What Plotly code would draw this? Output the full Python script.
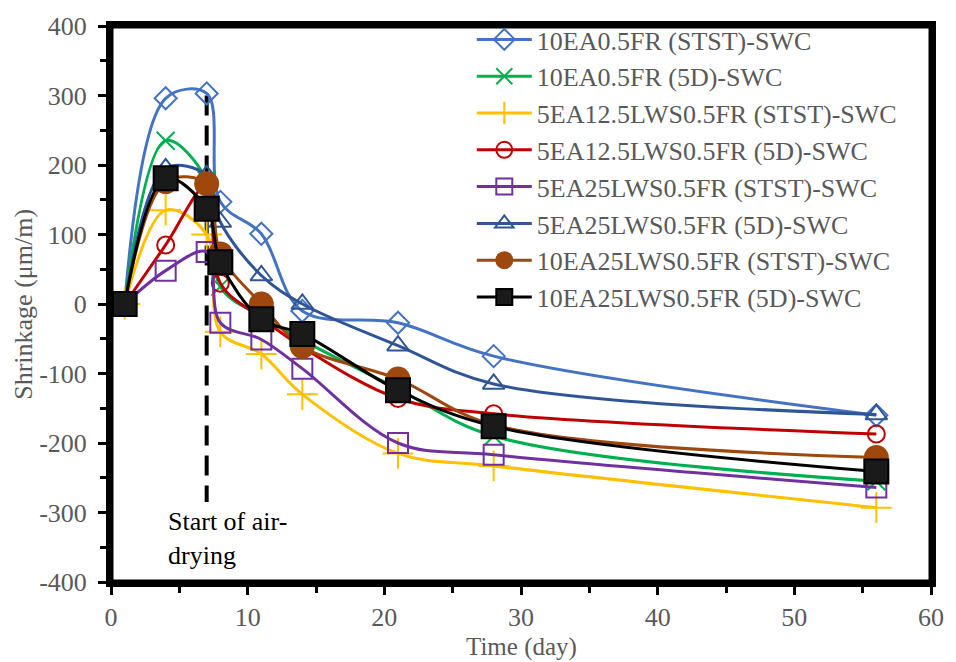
import plotly.graph_objects as go

days = [1, 4, 7, 8, 11, 14, 21, 28, 56]

names = [
    "10EA0.5FR (STST)-SWC",
    "10EA0.5FR (5D)-SWC",
    "5EA12.5LWS0.5FR (STST)-SWC",
    "5EA12.5LWS0.5FR (5D)-SWC",
    "5EA25LWS0.5FR (STST)-SWC",
    "5EA25LWS0.5FR (5D)-SWC",
    "10EA25LWS0.5FR (STST)-SWC",
    "10EA25LWS0.5FR (5D)-SWC",
]

s1 = [0, 296, 303, 147, 101, -10, -27, -75, -160]
s2 = [0, 235, 178, 25, -18, -52, -122, -190, -255]
s3 = [0, 135, 100, -40, -72, -130, -215, -233, -293]
s4 = [0, 85, 170, 30, -20, -62, -136, -158, -187]
s5 = [0, 48, 75, -27, -51, -93, -200, -217, -264]
s6 = [0, 195, 185, 118, 41, 0, -60, -115, -159]
s7 = [0, 176, 173, 72, 0, -61, -108, -174, -221]
s8 = [0, 181, 137, 60, -22, -43, -124, -176, -241]

series = [s1, s2, s3, s4, s5, s6, s7, s8]

y_ticks = [-400, -300, -200, -100, 0, 100, 200, 300, 400]
y_tick_text = ["-400", "-300", "-200", "-100", "0", "100", "200", "300", "400"]

colors = ["#4472C4", "#00B050", "#FFC000", "#C00000", "#7030A0", "#2F5597", "#9E480E", "#000000"]
symbols = ["diamond-open", "x-thin", "cross-thin", "circle-open", "square-open",
           "triangle-up-open", "circle", "square"]
sizes = [17, 18, 22, 17, 20, 19, 23, 24]
fills = [None, None, None, None, None, None, "#9E480E", "#1A1A1A"]

dash_x = [7, 7]
dash_y = [300, -285]

SERIF = "Liberation Serif"
GREY = "#595959"

fig = go.Figure()

fig.add_trace(go.Scatter(x=dash_x, y=dash_y, mode="lines",
                         line=dict(color="black", width=4, dash="20px,10px"),
                         showlegend=False, hoverinfo="skip"))

for i, (nm, ys) in enumerate(zip(names, series)):
    mk = dict(symbol=symbols[i], size=sizes[i], color=fills[i] or colors[i],
              line=dict(color=colors[i], width=2))
    fig.add_trace(go.Scatter(
        x=days, y=ys, name=nm, mode="lines+markers",
        line=dict(color=colors[i], width=3, shape="spline", smoothing=1),
        marker=mk, legendgroup=f"g{i}"))

tick_font = dict(family=SERIF, size=26, color=GREY)

fig.update_layout(
    width=956, height=662,
    margin=dict(l=111, r=18, t=17, b=80),
    paper_bgcolor="white", plot_bgcolor="white",
    font=dict(family=SERIF, color=GREY),
    xaxis=dict(range=[0, 60], dtick=10, tick0=0, showgrid=False, zeroline=False,
               showline=True, linecolor="black", linewidth=5, mirror=True,
               ticks="outside", ticklen=8, tickwidth=3, tickcolor="black",
               minor=dict(dtick=5, ticks="outside", ticklen=6, tickwidth=3, tickcolor="black"),
               tickfont=tick_font),
    yaxis=dict(range=[-400, 400], tickvals=y_ticks, ticktext=y_tick_text,
               showgrid=False, zeroline=False,
               showline=True, linecolor="black", linewidth=5, mirror=True,
               ticks="outside", ticklen=8, tickwidth=3, tickcolor="black",
               minor=dict(dtick=50, ticks="outside", ticklen=6, tickwidth=3, tickcolor="black"),
               tickfont=tick_font, ticklabelstandoff=6),
    legend=dict(x=0.44, y=1.018, xanchor="left", yanchor="top",
                font=dict(family=SERIF, size=26, color=GREY),
                bgcolor="rgba(0,0,0,0)", traceorder="grouped", tracegroupgap=0,
                itemwidth=55),
    showlegend=True,
)

fig.add_shape(type="rect", xref="paper", yref="paper", x0=0, x1=1, y0=0, y1=1,
              line=dict(color="black", width=5), layer="above")

fig.add_annotation(x=0.5, y=-0.117, xref="paper", yref="paper", xanchor="center", yanchor="middle",
                   text="Time (day)", showarrow=False,
                   font=dict(family=SERIF, size=25, color=GREY))
fig.add_annotation(x=-0.1076, y=0.5, xref="paper", yref="paper", xanchor="center", yanchor="middle",
                   text="Shrinkage (μm/m)", showarrow=False, textangle=-90,
                   font=dict(family=SERIF, size=26, color=GREY))

fig.add_annotation(x=4.0, y=-289, xref="x", yref="y", xanchor="left", yanchor="top",
                   text="Start of air-<br>drying", showarrow=False, align="left",
                   font=dict(family=SERIF, size=26, color="black"))

fig.write_html("out.html")
